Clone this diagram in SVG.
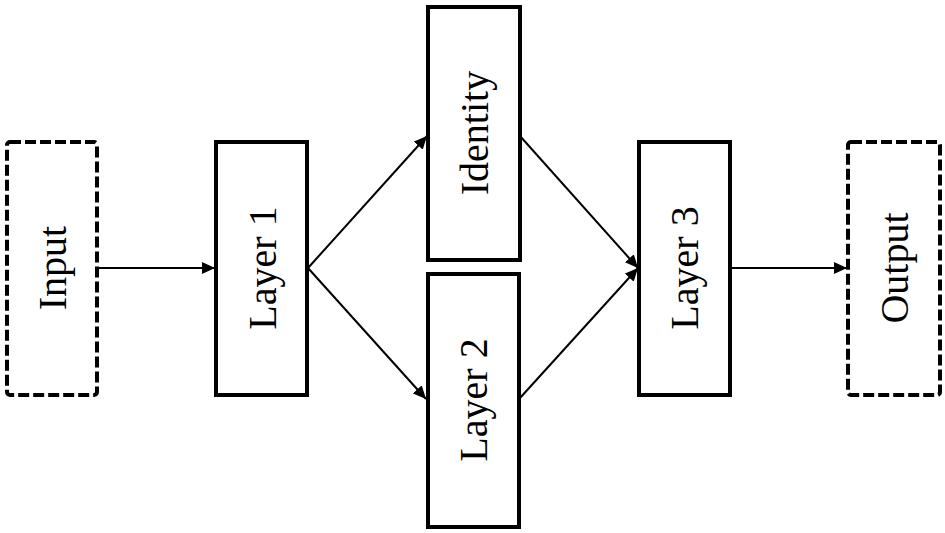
<svg xmlns="http://www.w3.org/2000/svg" width="945" height="533" viewBox="0 0 945 533">
<style>
.box{fill:#fff;stroke:#000;stroke-width:4}
.dash{fill:#fff;stroke:#000;stroke-width:4;stroke-dasharray:11 4}
.lbl{font-family:"Liberation Serif","Times New Roman",serif;font-size:40px;fill:#000;text-anchor:middle}
.conn{stroke:#000;stroke-width:2;fill:none;marker-end:url(#arr)}
</style>
<defs>
<marker id="arr" viewBox="0 0 13 12" refX="13" refY="6" markerWidth="13" markerHeight="12" markerUnits="userSpaceOnUse" orient="auto">
<path d="M0,0 L13,6 L0,12 Z" fill="#000"/>
</marker>
</defs>
<g id="connectors">
<line class="conn" x1="98" y1="268" x2="215" y2="268"/>
<line class="conn" x1="308" y1="268" x2="427" y2="136"/>
<line class="conn" x1="308" y1="268" x2="426" y2="399"/>
<line class="conn" x1="520" y1="136" x2="638" y2="268"/>
<line class="conn" x1="520" y1="398" x2="638" y2="268"/>
<line class="conn" x1="730" y1="268" x2="847" y2="268"/>
</g>
<g id="input">
<rect class="dash" x="7" y="142" width="90" height="253" rx="3"/>
<text class="lbl" transform="translate(52,268) rotate(-90)" y="14">Input</text>
</g>
<g id="layer1">
<rect class="box" x="216" y="142" width="91" height="253"/>
<text class="lbl" transform="translate(262,268) rotate(-90)" y="14">Layer 1</text>
</g>
<g id="identity">
<rect class="box" x="428" y="7" width="92" height="253"/>
<text class="lbl" transform="translate(474,133) rotate(-90)" y="14">Identity</text>
</g>
<g id="layer2">
<rect class="box" x="428" y="274" width="91" height="253"/>
<text class="lbl" transform="translate(473,400) rotate(-90)" y="14">Layer 2</text>
</g>
<g id="layer3">
<rect class="box" x="639" y="142" width="91" height="253"/>
<text class="lbl" transform="translate(684,268) rotate(-90)" y="14">Layer 3</text>
</g>
<g id="output">
<rect class="dash" x="848" y="142" width="92" height="253" rx="3"/>
<text class="lbl" transform="translate(894,268) rotate(-90)" y="14">Output</text>
</g>
</svg>
